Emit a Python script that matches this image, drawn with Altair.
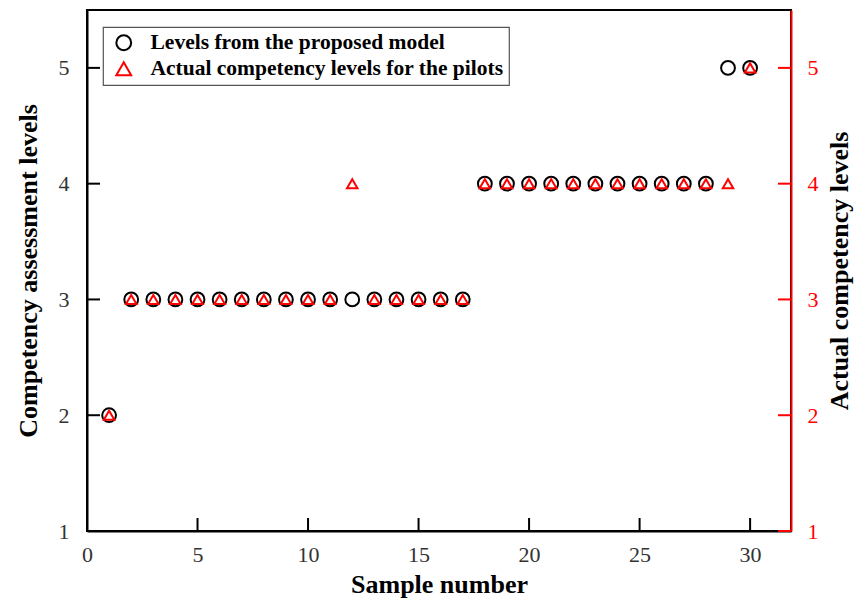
import altair as alt
import pandas as pd

samples = list(range(1, 31))
model_levels = [2, 3, 3, 3, 3, 3, 3, 3, 3, 3, 3, 3, 3, 3, 3, 3, 3,
                4, 4, 4, 4, 4, 4, 4, 4, 4, 4, 4, 5, 5]
actual_levels = [2, 3, 3, 3, 3, 3, 3, 3, 3, 3, 3, 4, 3, 3, 3, 3, 3,
                 4, 4, 4, 4, 4, 4, 4, 4, 4, 4, 4, 4, 5]
series_names = ["Levels from the proposed model",
                " Actual competency levels for the pilots"]
x_ticks = [0, 5, 10, 15, 20, 25, 30]
y_ticks = [1, 2, 3, 4, 5]

W, H = 704, 521
XDOM = [0, 31.85]
YDOM = [1, 5.5]
FONT = "Liberation Serif"

df_model = pd.DataFrame({"sample": samples, "level": model_levels, "series": series_names[0]})
df_actual = pd.DataFrame({"sample": samples, "level": actual_levels, "series": series_names[1]})
df_xt = pd.DataFrame({"sample": x_ticks})
df_yt = pd.DataFrame({"level": y_ticks})

color = alt.Color("series:N", scale=alt.Scale(domain=series_names, range=["black", "red"]),
                  legend=alt.Legend(title=None))
shape = alt.Shape("series:N", scale=alt.Scale(domain=series_names, range=["circle", "triangle-up"]),
                  legend=alt.Legend(title=None))

xscale = alt.Scale(domain=XDOM, nice=False, zero=False)
yscale = alt.Scale(domain=YDOM, nice=False, zero=False)

common = dict(grid=False, ticks=False, tickSize=0, domainWidth=2, labelFontSize=22,
              labelFont=FONT, labelFlush=False, titleFont=FONT, titleFontSize=26,
              titleFontWeight="bold", titleColor="black")

x_axis = alt.Axis(values=x_ticks, title="Sample number", labelPadding=13, titlePadding=6,
                  domainColor="black", labelColor="#333", **common)
left_axis = alt.Axis(values=y_ticks, title="Competency assessment levels", labelPadding=18,
                     titlePadding=17, domainColor="black", labelColor="#333", **common)
right_axis = alt.Axis(orient="right", values=y_ticks, title="Actual competency levels",
                      labelPadding=16, titlePadding=8, titleAngle=270, titleBaseline="top",
                      domainColor="red", labelColor="red", **common)

X = alt.X("sample:Q", scale=xscale, axis=x_axis)
YL = alt.Y("level:Q", scale=yscale, axis=left_axis)
YR = alt.Y("level:Q", scale=yscale, axis=right_axis)

circles = alt.Chart(df_model).mark_point(filled=False, strokeWidth=2, size=190, opacity=1).encode(
    x=X, y=YL, color=color, shape=shape,
)
left_ticks = alt.Chart(df_yt).mark_rule(color="black", strokeWidth=2).encode(
    y=YL, x=alt.value(0), x2=alt.value(13),
)
bottom_ticks = alt.Chart(df_xt).mark_rule(color="black", strokeWidth=2).encode(
    x=X, y=alt.value(H), y2=alt.value(H - 13),
)

triangles = alt.Chart(df_actual).mark_point(filled=False, strokeWidth=2, size=110, opacity=1).encode(
    x=X, y=YR, color=color, shape=shape,
)
right_ticks = alt.Chart(df_yt).mark_rule(color="red", strokeWidth=2).encode(
    y=YR, x=alt.value(W), x2=alt.value(W - 13),
)

left_group = alt.layer(bottom_ticks, left_ticks, circles)
right_group = alt.layer(right_ticks, triangles)

chart = alt.layer(left_group, right_group).resolve_scale(y="independent").properties(
    width=W, height=H,
    autosize=alt.AutoSizeParams(type="none"),
    padding={"left": 79, "top": 2, "right": 68, "bottom": 71},
).configure_view(stroke="black", strokeWidth=2).configure_legend(
    orient="none", legendX=16, legendY=17, strokeColor="#555", strokeWidth=1.2, fillColor="white",
    padding=5, rowPadding=2, labelFont=FONT, labelFontSize=21.5, labelFontWeight="bold",
    labelColor="black", symbolSize=220, symbolStrokeWidth=2, labelOffset=16, labelLimit=500,
    symbolOpacity=1, symbolOffset=5,
)

chart.save("out.html", embed_options={"renderer": "svg", "actions": False})
